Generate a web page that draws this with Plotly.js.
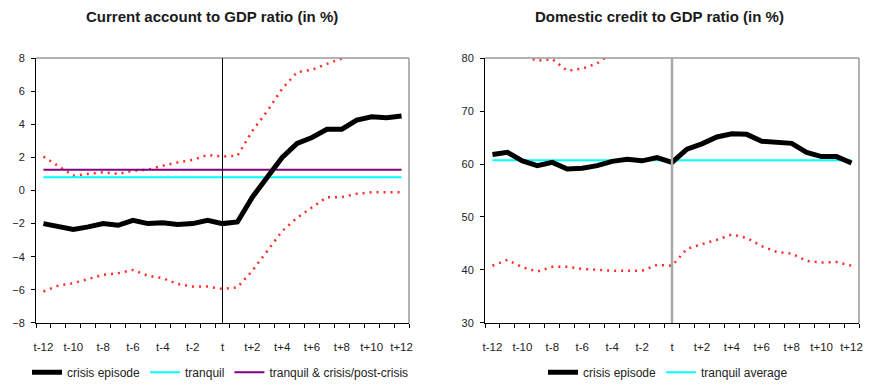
<!DOCTYPE html>
<html>
<head>
<meta charset="utf-8">
<script src="https://cdn.plot.ly/plotly-3.0.1.min.js"></script>
<style>
  html, body { margin: 0; padding: 0; background: #fff; }
  #chart { width: 877px; height: 387px; }
</style>
</head>
<body>
<div id="chart"></div>
<script>
// Event window around the crisis date t
const periods = ['t-12','t-11','t-10','t-9','t-8','t-7','t-6','t-5','t-4','t-3','t-2','t-1','t',
                 't+1','t+2','t+3','t+4','t+5','t+6','t+7','t+8','t+9','t+10','t+11','t+12'];

// Current account to GDP ratio (in %)
const caCrisis = [-2.0,-2.2,-2.35,-2.2,-2.0,-2.1,-1.8,-2.0,-1.95,-2.05,-2.0,-1.8,-2.0,
                  -1.9,-0.4,0.8,2.0,2.85,3.2,3.7,3.7,4.25,4.45,4.4,4.5];
const caUpper  = [2.05,1.5,0.9,1.0,1.1,1.0,1.2,1.25,1.5,1.7,1.85,2.15,2.05,
                  2.1,3.6,4.8,6.15,7.15,7.3,7.65,8.0,8.3,8.5,8.6,8.7];
const caLower  = [-6.1,-5.75,-5.6,-5.35,-5.1,-5.0,-4.8,-5.15,-5.3,-5.65,-5.8,-5.8,-5.95,
                  -5.85,-4.85,-3.65,-2.45,-1.65,-1.0,-0.4,-0.4,-0.2,-0.1,-0.1,-0.1];
const caTranquil = 0.8;
const caTranquilCrisis = 1.25;

// Domestic credit to GDP ratio (in %)
const dcCrisis = [61.8,62.2,60.6,59.7,60.3,59.05,59.2,59.7,60.5,60.9,60.6,61.2,60.3,
                  62.8,63.8,65.1,65.7,65.6,64.3,64.1,63.9,62.2,61.4,61.4,60.2];
const dcUpper  = [82.0,81.5,80.5,79.5,79.8,77.6,78.0,79.0,81.0,82.5,83.0,83.5,84.0,
                  85.0,86.0,87.0,88.0,88.5,88.0,87.5,87.0,86.5,86.0,85.5,85.0];
const dcLower  = [40.8,41.9,40.5,39.7,40.6,40.6,40.2,40.0,39.85,39.85,39.85,40.95,40.8,
                  44.0,44.8,45.7,46.7,46.05,44.5,43.4,43.1,41.7,41.4,41.5,40.8];
const dcTranquil = 60.7;

const W = 877, H = 387;
const px = v => v / W;
const py = v => 1 - v / H;

const FONT = 'Liberation Sans, Arial, sans-serif';
const tickText = periods.map((p, i) => (i % 2 === 0 ? p : ''));
const flat = (v) => periods.map(() => v);

function bandTrace(y, xa, ya) {
  return { x: periods, y: y, xaxis: xa, yaxis: ya, type: 'scatter', mode: 'lines',
           line: { color: '#ff2a2a', width: 2.5, dash: '2px,5px' }, showlegend: false, hoverinfo: 'skip' };
}

const traces = [
  bandTrace(caUpper, 'x', 'y'),
  bandTrace(caLower, 'x', 'y'),
  { x: periods, y: flat(caTranquil), xaxis: 'x', yaxis: 'y', type: 'scatter', mode: 'lines',
    name: 'tranquil', line: { color: '#00ffff', width: 2 }, legendrank: 2, legend: 'legend' },
  { x: periods, y: flat(caTranquilCrisis), xaxis: 'x', yaxis: 'y', type: 'scatter', mode: 'lines',
    name: 'tranquil & crisis/post-crisis', line: { color: '#800080', width: 2 }, legendrank: 3, legend: 'legend' },
  { x: periods, y: caCrisis, xaxis: 'x', yaxis: 'y', type: 'scatter', mode: 'lines',
    name: 'crisis episode', line: { color: '#000000', width: 5 }, legendrank: 1, legend: 'legend' },

  bandTrace(dcUpper, 'x2', 'y2'),
  bandTrace(dcLower, 'x2', 'y2'),
  { x: periods, y: flat(dcTranquil), xaxis: 'x2', yaxis: 'y2', type: 'scatter', mode: 'lines',
    name: 'tranquil average', line: { color: '#00ffff', width: 2 }, legendrank: 2, legend: 'legend2' },
  { x: periods, y: dcCrisis, xaxis: 'x2', yaxis: 'y2', type: 'scatter', mode: 'lines',
    name: 'crisis episode', line: { color: '#000000', width: 5 }, legendrank: 1, legend: 'legend2' }
];

function xAxis(domain, anchor) {
  return {
    domain: domain, anchor: anchor, type: 'category', range: [-0.5, periods.length - 0.5],
    tickmode: 'array', tickvals: periods, ticktext: tickText, tickson: 'boundaries',
    tickangle: 0, automargin: false, ticklabelstandoff: 13,
    ticks: 'outside', ticklen: 4, tickwidth: 1, tickcolor: '#000',
    showline: true, linecolor: '#000', linewidth: 1, showgrid: false, zeroline: false,
    tickfont: { family: FONT, size: 11.5, color: '#222' }, fixedrange: true
  };
}
function yAxis(range, dtick, anchor) {
  return {
    domain: [py(328), py(59)], anchor: anchor, range: range, dtick: dtick, tick0: range[0],
    ticks: 'outside', ticklen: 4, tickwidth: 1, tickcolor: '#000', automargin: false,
    ticklabelstandoff: 4,
    showline: true, linecolor: '#000', linewidth: 1, showgrid: false, zeroline: false,
    tickfont: { family: FONT, size: 11, color: '#222' }, fixedrange: true
  };
}

function frame(xr, yr) {
  // light grey top and right edges of the plot area
  return [
    { type: 'line', xref: xr + ' domain', yref: yr + ' domain', x0: 0, x1: 1, y0: 1, y1: 1,
      line: { color: '#9a9a9a', width: 1.5 } },
    { type: 'line', xref: xr + ' domain', yref: yr + ' domain', x0: 1, x1: 1, y0: 0, y1: 1,
      line: { color: '#9a9a9a', width: 1.5 } }
  ];
}

const legendFont = { family: FONT, size: 12, color: '#222' };

const layout = {
  width: W, height: H,
  margin: { l: 0, r: 0, t: 0, b: 0 },
  paper_bgcolor: '#fff', plot_bgcolor: '#fff',
  font: { family: FONT, size: 11, color: '#222' },
  xaxis: xAxis([px(36), px(409)], 'y'),
  yaxis: yAxis([-8, 8], 2, 'x'),
  xaxis2: xAxis([px(485), px(859)], 'y2'),
  yaxis2: yAxis([30, 80], 10, 'x2'),
  legend: {
    orientation: 'h', x: px(27), y: py(378), xanchor: 'left', yanchor: 'middle',
    font: legendFont, bgcolor: 'rgba(0,0,0,0)', tracegroupgap: 0,
    traceorder: 'normal', itemclick: false, itemdoubleclick: false
  },
  legend2: {
    orientation: 'h', x: px(543), y: py(378), xanchor: 'left', yanchor: 'middle',
    font: legendFont, bgcolor: 'rgba(0,0,0,0)',
    traceorder: 'normal', itemclick: false, itemdoubleclick: false
  },
  shapes: [
    ...frame('x', 'y'),
    ...frame('x2', 'y2'),
    { type: 'line', xref: 'x', yref: 'y domain', x0: 't', x1: 't', y0: 0, y1: 1,
      line: { color: '#000', width: 1 } },
    { type: 'line', xref: 'x2', yref: 'y2 domain', x0: 't', x1: 't', y0: 0, y1: 1,
      line: { color: '#a8a8a8', width: 2.5 } }
  ],
  annotations: [
    { text: '<b>Current account to GDP ratio (in %)</b>', xref: 'paper', yref: 'paper',
      x: px(211.5), y: py(17), xanchor: 'center', yanchor: 'middle', showarrow: false,
      font: { family: FONT, size: 15, color: '#1a1a1a' } },
    { text: '<b>Domestic credit to GDP ratio (in %)</b>', xref: 'paper', yref: 'paper',
      x: px(659.5), y: py(17), xanchor: 'center', yanchor: 'middle', showarrow: false,
      font: { family: FONT, size: 15, color: '#1a1a1a' } }
  ]
};

Plotly.newPlot('chart', traces, layout, { displayModeBar: false, staticPlot: true });
</script>
</body>
</html>
